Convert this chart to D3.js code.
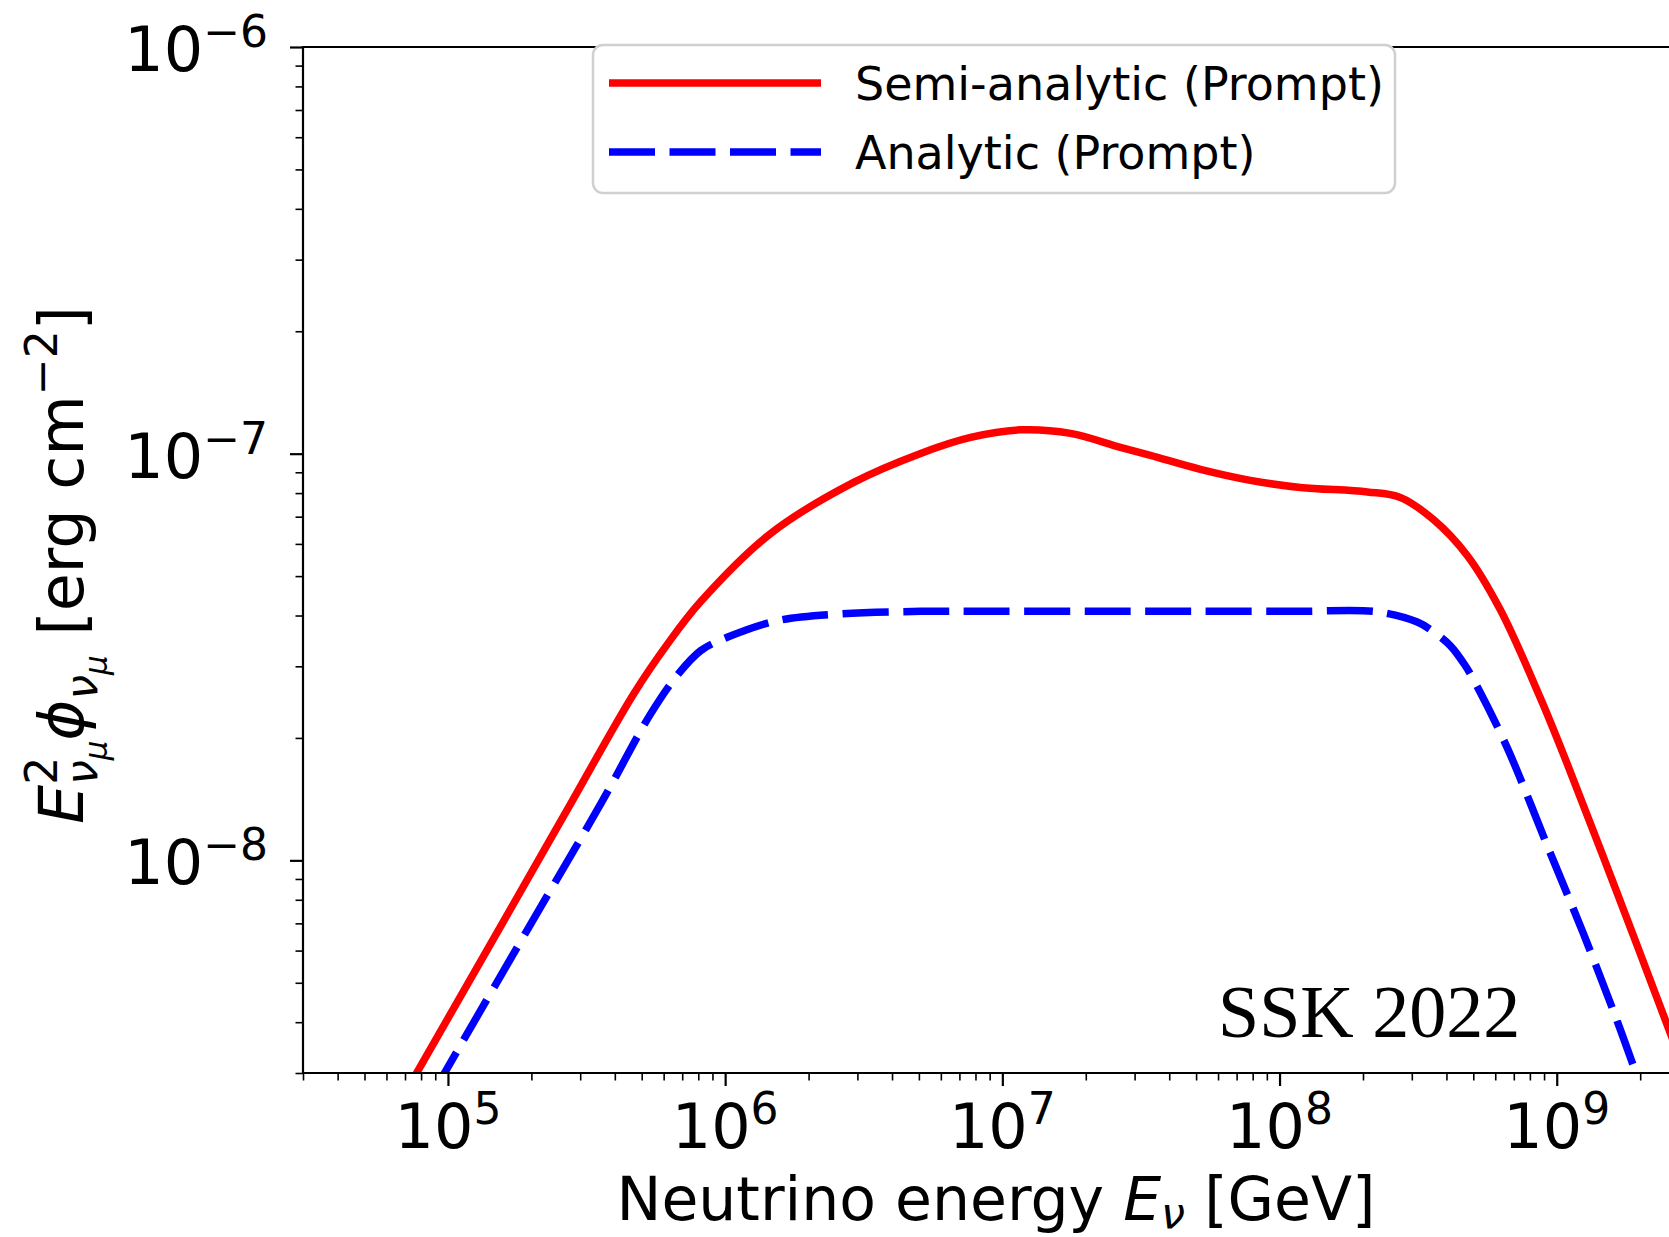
<!DOCTYPE html>
<html>
<head>
<meta charset="utf-8">
<script src="https://cdn.jsdelivr.net/npm/d3@7"></script>
<style>
  body { margin: 0; background: #fff; }
  svg { display: block; }
  text { font-family: "DejaVu Sans", sans-serif; fill: #000; white-space: pre; }
</style>
</head>
<body>
<script>
var width = 1669, height = 1237;
// plot box; right edge sits outside the picture (figure is cropped)
var box = {left: 303, top: 47, right: 1689, bottom: 1073};

// neutrino energy [GeV] and E^2 phi [erg cm^-2]
var semiE = [7.06e4, 7.67e4, 1.553e5, 2.708e5, 4.683e5, 6.211e5, 8.166e5, 1.46e6, 2.908e6,
             5.072e6, 7.681e6, 1.163e7, 1.762e7, 2.668e7, 3.421e7, 5.183e7, 7.847e7, 1.1885e8, 2.073e8,
             2.726e8, 3.585e8, 4.753e8, 6.252e8, 8.713e8, 1.09e9, 1.651e9, 2.542e9, 3.288e9];
var semiF = [2.69e-9, 2.98e-9, 6.90e-9, 1.340e-8, 2.570e-8, 3.412e-8, 4.329e-8, 6.366e-8, 8.500e-8,
             1.0016e-7, 1.0966e-7, 1.1444e-7, 1.1220e-7, 1.0363e-7, 9.904e-8, 9.148e-8, 8.597e-8, 8.261e-8, 8.054e-8,
             7.806e-8, 6.890e-8, 5.618e-8, 4.136e-8, 2.513e-8, 1.729e-8, 8.32e-9, 3.83e-9, 2.40e-9];

var anaE = [8.90e4, 9.67e4, 1.991e5, 3.561e5, 5.393e5, 6.747e5, 8.166e5, 1.022e6, 1.548e6, 2.546e6,
            5.072e6, 9.85e6, 2.259e7, 5.183e7, 1.1885e8, 2.252e8, 3.140e8, 3.585e8, 4.128e8, 4.675e8,
            5.164e8, 6.625e8, 9.467e8, 1.245e9, 1.651e9, 1.949e9, 2.172e9];
var anaF = [2.69e-9, 2.98e-9, 6.98e-9, 1.378e-8, 2.295e-8, 2.862e-8, 3.279e-8, 3.540e-8, 3.888e-8, 4.034e-8,
            4.095e-8, 4.097e-8, 4.097e-8, 4.097e-8, 4.097e-8, 4.085e-8, 3.855e-8, 3.652e-8, 3.374e-8, 3.013e-8,
            2.675e-8, 1.893e-8, 1.044e-8, 6.63e-9, 4.03e-9, 2.95e-9, 2.42e-9];

var xMajor = [1e5, 1e6, 1e7, 1e8, 1e9], xExp = ["5", "6", "7", "8", "9"];
var yMajor = [1e-8, 1e-7, 1e-6], yExp = ["\u22128", "\u22127", "\u22126"];
var legendNames = ["Semi-analytic (Prompt)", "Analytic (Prompt)"];

var svg = d3.select("body").append("svg")
    .attr("width", width)
    .attr("height", height);

var x = d3.scaleLog().domain([3e4, 3e9]).range([box.left, box.right]);
var y = d3.scaleLog().domain([3e-9, 1e-6]).range([box.bottom, box.top]);

// little mathtext-ish helper: runs of text laid out left to right
function mathText(parent, runs) {
  var g = parent.append("g");
  var cur = 0, maxEnd = 0, lastStart = 0;
  runs.forEach(function (r) {
    var start = r.back ? lastStart : (r.max ? maxEnd : cur);
    var t = g.append("text")
        .attr("x", start)
        .attr("y", r.dy || 0)
        .attr("xml:space", "preserve")
        .style("font-size", r.s + "px")
        .style("font-style", r.it ? "italic" : "normal")
        .text(r.t);
    var w = t.node().getComputedTextLength();
    lastStart = start;
    cur = start + w;
    maxEnd = Math.max(maxEnd, cur);
  });
  return {g: g, w: maxEnd};
}

// ticks
var xMinor = x.ticks().filter(function (d) { return xMajor.indexOf(d) < 0; });
var yMinor = y.ticks().filter(function (d) { return yMajor.indexOf(d) < 0; });

var gx = svg.append("g").attr("transform", "translate(0," + box.bottom + ")");
gx.call(d3.axisBottom(x).tickValues(xMajor).tickSize(13).tickFormat(""));
gx.call(function (g) { g.select(".domain").remove(); });
gx.selectAll("line").attr("stroke-width", 2.2);

var gxm = svg.append("g").attr("transform", "translate(0," + box.bottom + ")");
gxm.call(d3.axisBottom(x).tickValues(xMinor).tickSize(7.5).tickFormat(""));
gxm.call(function (g) { g.select(".domain").remove(); });
gxm.selectAll("line").attr("stroke-width", 1.6);

var gy = svg.append("g").attr("transform", "translate(" + box.left + ",0)");
gy.call(d3.axisLeft(y).tickValues(yMajor).tickSize(13).tickFormat(""));
gy.call(function (g) { g.select(".domain").remove(); });
gy.selectAll("line").attr("stroke-width", 2.2);

var gym = svg.append("g").attr("transform", "translate(" + box.left + ",0)");
gym.call(d3.axisLeft(y).tickValues(yMinor).tickSize(7.5).tickFormat(""));
gym.call(function (g) { g.select(".domain").remove(); });
gym.selectAll("line").attr("stroke-width", 1.6);

// tick labels 10^n
xMajor.forEach(function (v, i) {
  var m = mathText(svg, [{t: "10", s: 62}, {t: xExp[i], s: 44, dy: -24}]);
  m.g.attr("transform", "translate(" + (x(v) - m.w / 2) + ",1148)");
});
yMajor.forEach(function (v, i) {
  var m = mathText(svg, [{t: "10", s: 62}, {t: yExp[i], s: 44, dy: -24}]);
  m.g.attr("transform", "translate(" + (268 - m.w) + "," + (y(v) + 24) + ")");
});

// curves
svg.append("clipPath").attr("id", "clip")
  .append("rect")
    .attr("x", box.left).attr("y", box.top)
    .attr("width", box.right - box.left).attr("height", box.bottom - box.top);

var line = d3.line()
    .x(function (d) { return x(d[0]); })
    .y(function (d) { return y(d[1]); })
    .curve(d3.curveCatmullRom.alpha(0.5));

var plot = svg.append("g").attr("clip-path", "url(#clip)");
plot.append("path")
    .datum(d3.zip(anaE, anaF))
    .attr("d", line)
    .attr("fill", "none")
    .attr("stroke", "#0000ff")
    .attr("stroke-width", 7.5)
    .attr("stroke-dasharray", "46,14.5");
plot.append("path")
    .datum(d3.zip(semiE, semiF))
    .attr("d", line)
    .attr("fill", "none")
    .attr("stroke", "#ff0000")
    .attr("stroke-width", 7.5);

// spines
svg.append("path")
    .attr("d", "M" + box.left + "," + box.top + "V" + box.bottom + "H" + box.right
              + "M" + box.left + "," + box.top + "H" + box.right)
    .attr("fill", "none")
    .attr("stroke", "#000")
    .attr("stroke-width", 2.2)
    .attr("stroke-linecap", "square");

// axis labels
var xl = mathText(svg, [
  {t: "Neutrino energy\u00a0", s: 60},
  {t: "E", s: 60, it: true},
  {t: "\u03bd", s: 43, it: true, dy: 8},
  {t: "\u00a0[GeV]", s: 60}
]);
xl.g.attr("transform", "translate(" + ((box.left + box.right) / 2 - xl.w / 2) + ",1220)");

var yl = mathText(svg, [
  {t: "E", s: 62, it: true},
  {t: "2", s: 44, dy: -26},
  {t: "\u03bd", s: 44, it: true, dy: 14, back: true},
  {t: "\u03bc", s: 31, it: true, dy: 24},
  {t: "\u03d5", s: 62, it: true, max: true},
  {t: "\u03bd", s: 44, it: true, dy: 14},
  {t: "\u03bc", s: 31, it: true, dy: 24},
  {t: "\u00a0[erg cm", s: 62, max: true},
  {t: "\u22122", s: 44, dy: -26},
  {t: "]", s: 62}
]);
yl.g.attr("transform", "translate(83," + (565 + yl.w / 2) + ") rotate(-90)");

// legend
var leg = svg.append("g");
leg.append("rect")
    .attr("x", 593).attr("y", 45)
    .attr("width", 802).attr("height", 148)
    .attr("rx", 10)
    .attr("fill", "#fff")
    .attr("stroke", "#d0d0d0")
    .attr("stroke-width", 2.5);
var legColors = ["#ff0000", "#0000ff"], legDash = [null, "46,14.5"];
legendNames.forEach(function (name, i) {
  var ly = 83 + i * 69;
  leg.append("line")
      .attr("x1", 609).attr("x2", 821)
      .attr("y1", ly).attr("y2", ly)
      .attr("stroke", legColors[i])
      .attr("stroke-width", 7.5)
      .attr("stroke-dasharray", legDash[i]);
  leg.append("text")
      .attr("x", 855).attr("y", ly + 17)
      .style("font-size", "46px")
      .text(name);
});

svg.append("text")
    .attr("x", 1218).attr("y", 1037)
    .style("font-family", "'Liberation Serif', 'Times New Roman', serif")
    .style("font-size", "74px")
    .text("SSK 2022");
</script>
</body>
</html>
